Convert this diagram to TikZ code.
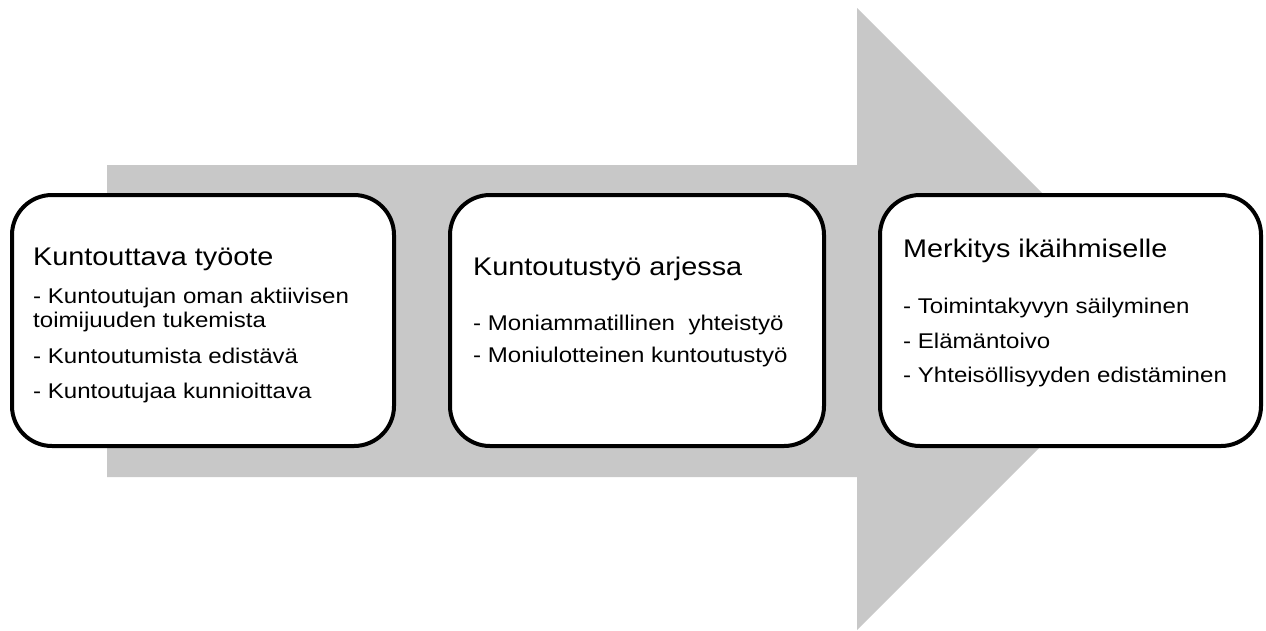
\documentclass[tikz,border=0pt]{standalone}
\usepackage{fontspec}
\setmainfont{Liberation Sans}[FakeStretch=1.13]
\usepackage{tikz}
\usetikzlibrary{positioning}
\definecolor{arrowgrey}{RGB}{200,200,200}

\begin{document}
\begin{tikzpicture}[x=1pt, y=-1pt,
        every node/.style = {inner sep=0pt},
        stagebox/.style = {draw, line width=4pt, rounded corners=40pt, fill=white, minimum height=251pt},
        boxtitle/.style = {anchor=base west, font=\fontsize{25.5}{30}\selectfont},
        boxitem/.style = {anchor=base west, font=\fontsize{21.3}{24}\selectfont}
        ]
        \useasboundingbox (0,0) rectangle (1266,630);
        % big grey arrow
        \fill[arrowgrey] (107,165) -- (857,165) -- (857,8) -- (1168,319)
              -- (857,630) -- (857,477) -- (107,477) -- cycle;
        % the three boxes
        \node[stagebox, minimum width=382pt] (box1) at (203,320.5) {};
        \node[stagebox, minimum width=374pt] (box2) at (637,320.5) {};
        \node[stagebox, minimum width=381pt] (box3) at (1070.5,320.5) {};
        % box 1
        \node[boxtitle] (title1) at (33,265) {Kuntouttava työote};
        \node[boxitem] (item11) at (33,303) {- Kuntoutujan oman aktiivisen};
        \node[boxitem] (item11b) at (33,327) {toimijuuden tukemista};
        \node[boxitem] (item12) at (33,363) {- Kuntoutumista edistävä};
        \node[boxitem] (item13) at (33,398) {- Kuntoutujaa kunnioittava};
        % box 2
        \node[boxtitle] (title2) at (473,275) {Kuntoutustyö arjessa};
        \node[boxitem] (item21) at (473,330) {- Moniammatillinen\ \ yhteistyö};
        \node[boxitem] (item22) at (473,362) {- Moniulotteinen kuntoutustyö};
        % box 3
        \node[boxtitle] (title3) at (903,257) {Merkitys ikäihmiselle};
        \node[boxitem] (item31) at (903,313) {- Toimintakyvyn säilyminen};
        \node[boxitem] (item32) at (903,348) {- Elämäntoivo};
        \node[boxitem] (item33) at (903,382) {- Yhteisöllisyyden edistäminen};
\end{tikzpicture}
\end{document}
